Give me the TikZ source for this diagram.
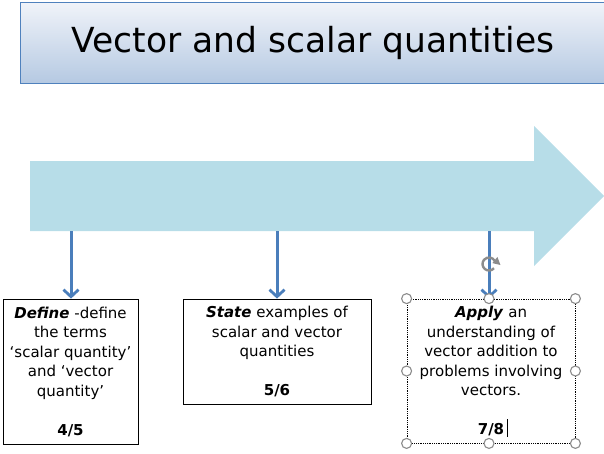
\documentclass[tikz,border=0pt]{standalone}
\usepackage{fontspec}
\setmainfont{DejaVu Sans}
\usetikzlibrary{arrows.meta}
\definecolor{arrowfill}{HTML}{B7DDE8}
\definecolor{linkblue}{HTML}{4A7EBB}
\definecolor{titleborder}{HTML}{4F81BD}
\definecolor{titletop}{HTML}{F0F3F9}
\definecolor{titlebot}{HTML}{B5C9E2}
\definecolor{handlegray}{HTML}{8C8C8C}
\begin{document}
\begin{tikzpicture}[x=1pt,y=-1pt,
  goalbox/.style={draw=black, line width=0.8pt, fill=white, align=center, inner sep=0pt,
    font=\fontsize{15}{19.5}\selectfont},
  link/.style={draw=linkblue, line width=3pt,
    -{Straight Barb[length=7pt,width=15pt,line width=2.8pt]}},
  handle/.style={circle, draw=handlegray, fill=white, line width=1.1pt,
    minimum size=10pt, inner sep=0pt}]
\useasboundingbox (0,0) rectangle (604,453);
% title banner
\node[draw=titleborder, line width=1pt, top color=titletop, bottom color=titlebot,
  minimum width=585pt, minimum height=81pt, anchor=north west, inner sep=0pt,
  font=\fontsize{34.5}{40}\selectfont] (title) at (20,2) {Vector and scalar quantities};
% big arrow
\fill[arrowfill] (30,161) -- (534,161) -- (534,126) -- (604,196) -- (534,266)
  -- (534,231) -- (30,231) -- cycle;
\coordinate (s1) at (71,231);
\coordinate (s2) at (277,231);
\coordinate (s3) at (489,231);
% boxes
\node[goalbox, minimum width=135pt, minimum height=145pt] (define) at (70.5,371.5)
  {\textbf{\textit{Define}} -define\\the terms\\‘scalar quantity’\\and ‘vector\\quantity’\\[19.5pt]\textbf{4/5}};
\node[goalbox, minimum width=188pt, minimum height=105pt] (state) at (277,351.5)
  {\textbf{\textit{State}} examples of\\scalar and vector\\quantities\\[19.5pt]\textbf{5/6}};
\node[goalbox, draw=black, densely dotted, minimum width=168pt, minimum height=144pt] (apply) at (491,371)
  {\textbf{\textit{Apply}} an\\understanding of\\vector addition to\\problems involving\\vectors.\\[19.5pt]\textbf{7/8}};
% connectors
\draw[link] (s1) -- (s1 |- define.north);
\draw[link] (s2) -- (s2 |- state.north);
\draw[link] (s3) -- (s3 |- apply.north);
% selection handles
\node[handle] (h1) at (apply.north west) {};
\node[handle] (h2) at (s3 |- apply.north) {};
\node[handle] (h3) at (apply.north east) {};
\node[handle] (h4) at (apply.west) {};
\node[handle] (h5) at (apply.east) {};
\node[handle] (h6) at (apply.south west) {};
\node[handle] (h7) at (s3 |- apply.south) {};
\node[handle] (h8) at (apply.south east) {};
% rotation handle
\coordinate (rot) at (489,264);
\draw[handlegray, line width=2.4pt] ([shift={(rot)}] -40:6.5pt) arc[start angle=-40, end angle=-330, radius=6.5pt];
\fill[handlegray] ([shift={(rot)}] 15:3.5pt) -- ([shift={(rot)}] 40:11pt) -- ([shift={(rot)}] -5:11.5pt) -- cycle;
% text cursor
\draw[line width=0.8pt] (507,419) -- (507,437);
\end{tikzpicture}
\end{document}
